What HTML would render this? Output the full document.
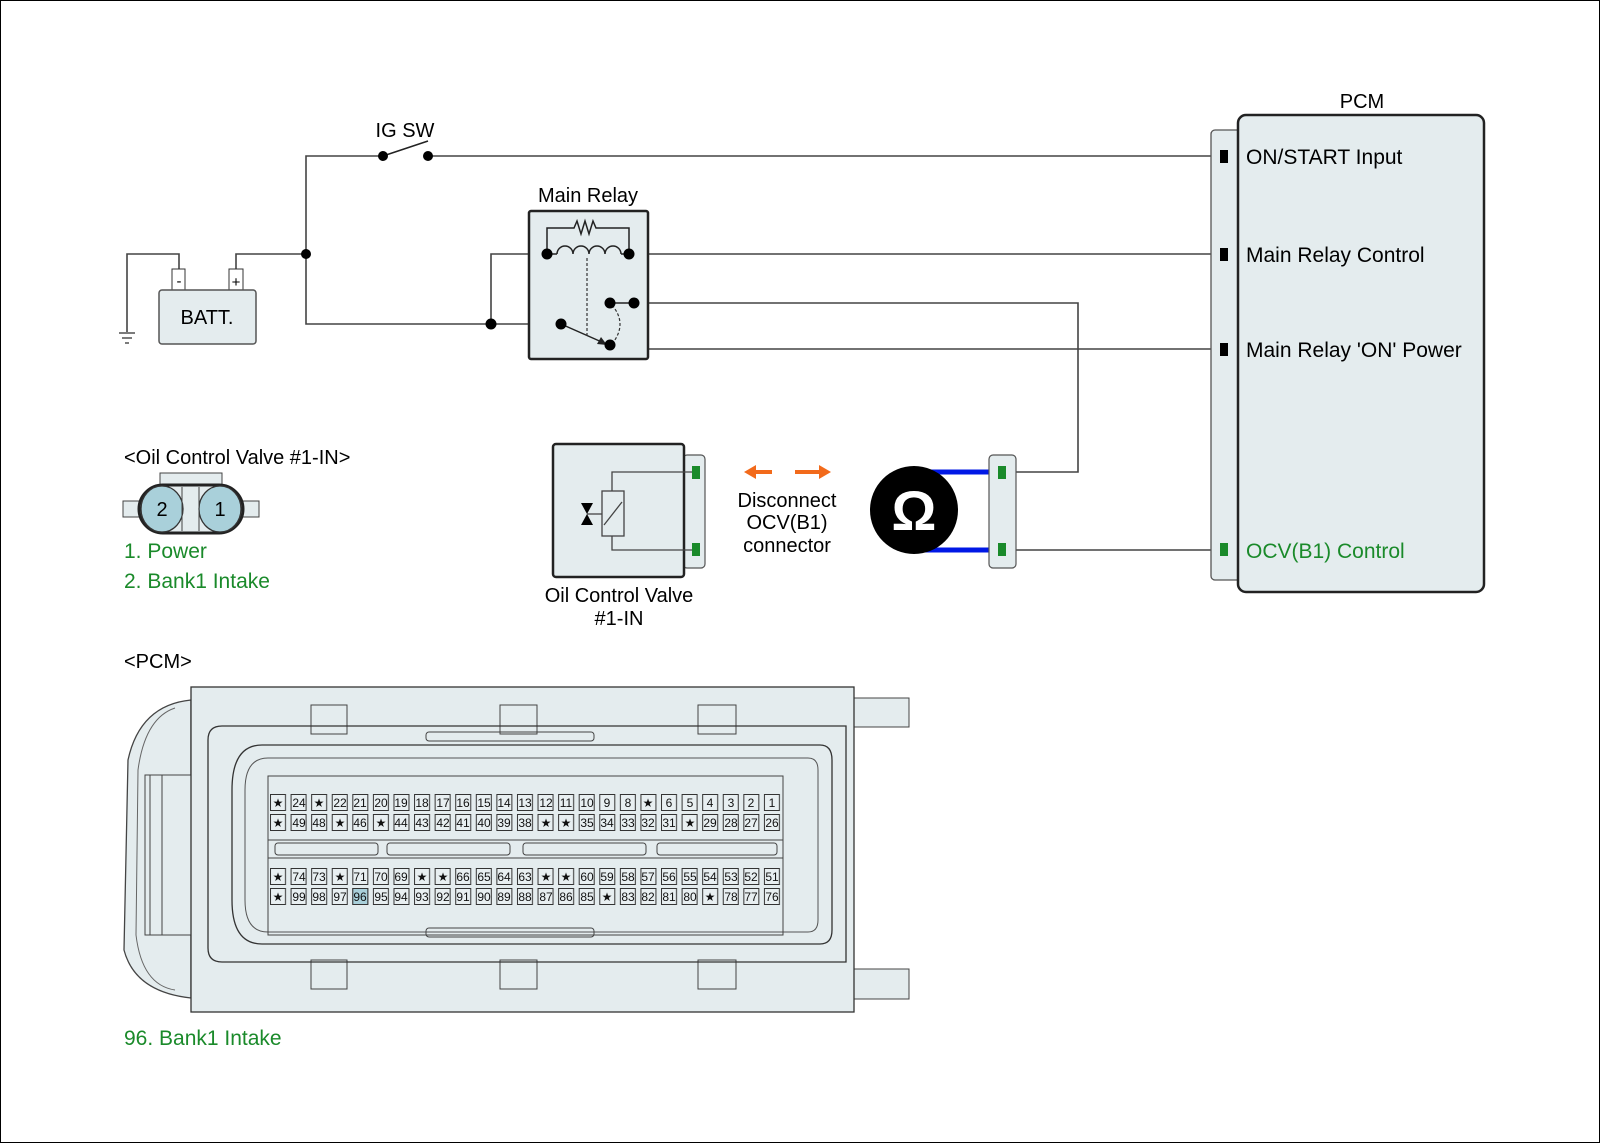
<!DOCTYPE html>
<html><head><meta charset="utf-8"><style>
html,body{margin:0;padding:0;background:#fff}
svg{display:block}
text{font-family:"Liberation Sans",Arial,sans-serif}
</style></head><body>
<svg width="1600" height="1143" viewBox="0 0 1600 1143" xmlns="http://www.w3.org/2000/svg">
<defs>
<pattern id="cellsA" x="270" y="794" width="20.58" height="20" patternUnits="userSpaceOnUse">
<rect x="0.5" y="0.5" width="15" height="16" fill="#e8eff1" stroke="#333" stroke-width="1"/>
</pattern>
<pattern id="cellsB" x="270" y="868" width="20.58" height="20" patternUnits="userSpaceOnUse">
<rect x="0.5" y="0.5" width="15" height="16" fill="#e8eff1" stroke="#333" stroke-width="1"/>
</pattern>
</defs>
<rect x="0.5" y="0.5" width="1599" height="1142" fill="#fff" stroke="#000" stroke-width="1"/>

<g fill="none" stroke="#444" stroke-width="1.6">
<polyline points="383,156 306,156 306,324 491,324"/>
<line x1="428" y1="156" x2="1222" y2="156"/>
<polyline points="236,276 236,254 306,254"/>
<polyline points="179,276 179,254 127,254 127,332"/>
<polyline points="491,324 491,254 547,254"/>
<line x1="629" y1="254" x2="1222" y2="254"/>
<polyline points="634,303 1078,303 1078,472 1002,472"/>
<polyline points="634,303 634,349 1222,349"/>
<line x1="1002" y1="550" x2="1222" y2="550"/>
<line x1="491" y1="324" x2="561" y2="324"/>
</g>
<g stroke="#444" stroke-width="1.4">
<line x1="119" y1="333" x2="135" y2="333"/><line x1="122" y1="338" x2="132" y2="338"/><line x1="125" y1="343" x2="129" y2="343"/>
</g>

<line x1="383" y1="156" x2="428" y2="141" stroke="#222" stroke-width="1.6"/>
<circle cx="383" cy="156" r="5" fill="#000"/><circle cx="428" cy="156" r="5" fill="#000"/>
<text x="405" y="137" font-size="20" text-anchor="middle">IG SW</text>
<circle cx="306" cy="254" r="5" fill="#000"/>

<rect x="172" y="269" width="13" height="21" fill="#fff" stroke="#333"/>
<rect x="229" y="269" width="14" height="21" fill="#fff" stroke="#333"/>
<text x="179" y="286" font-size="15" text-anchor="middle">-</text>
<text x="236" y="287" font-size="15" text-anchor="middle">+</text>
<rect x="159" y="290" width="97" height="54" rx="3" fill="#e4ecee" stroke="#555" stroke-width="1.5"/>
<text x="207" y="324" font-size="20" text-anchor="middle">BATT.</text>

<text x="588" y="202" font-size="20" text-anchor="middle">Main Relay</text>
<rect x="529" y="211" width="119" height="148" rx="2" fill="#e4ecee" stroke="#222" stroke-width="2.5"/>
<g fill="none" stroke="#222" stroke-width="1.5">
<polyline points="547,254 547,228 574,228 577,221 581,234 585,221 589,234 593,221 596,228 629,228 629,254"/>
<path d="M557,254 a8,8 0 0 1 16,0 a8,8 0 0 1 16,0 a8,8 0 0 1 16,0 a8,8 0 0 1 16,0"/>
<line x1="547" y1="254" x2="557" y2="254"/><line x1="621" y1="254" x2="629" y2="254"/>
<line x1="610" y1="303" x2="634" y2="303"/>
<line x1="561" y1="324" x2="604" y2="343"/>
</g>
<polygon points="607,345 597,344 601,337" fill="#222"/>
<line x1="587" y1="258" x2="587" y2="338" stroke="#333" stroke-width="1.2" stroke-dasharray="3,2"/>
<path d="M612,305 Q628,324 612,344" fill="none" stroke="#333" stroke-width="1.2" stroke-dasharray="3,2"/>
<circle cx="547" cy="254" r="5.5" fill="#000"/><circle cx="629" cy="254" r="5.5" fill="#000"/>
<circle cx="491" cy="324" r="5.5" fill="#000"/><circle cx="561" cy="324" r="5.5" fill="#000"/>
<circle cx="610" cy="345" r="5.5" fill="#000"/>
<circle cx="610" cy="303" r="5.5" fill="#000"/><circle cx="634" cy="303" r="5.5" fill="#000"/>

<text x="1362" y="108" font-size="20" text-anchor="middle">PCM</text>
<rect x="1211" y="130" width="40" height="450" rx="4" fill="#e4ecee" stroke="#555" stroke-width="1.3"/>
<rect x="1238" y="115" width="246" height="477" rx="8" fill="#e4ecee" stroke="#222" stroke-width="2.5"/>
<rect x="1220" y="150" width="8" height="13" fill="#000"/>
<rect x="1220" y="248" width="8" height="13" fill="#000"/>
<rect x="1220" y="343" width="8" height="13" fill="#000"/>
<rect x="1220" y="543" width="8" height="13" fill="#1a8a2a"/>
<g font-size="21">
<text x="1246" y="164">ON/START Input</text>
<text x="1246" y="262">Main Relay Control</text>
<text x="1246" y="357">Main Relay 'ON' Power</text>
<text x="1246" y="558" fill="#1a8a2a">OCV(B1) Control</text>
</g>

<rect x="683" y="455" width="22" height="113" rx="4" fill="#e4ecee" stroke="#555" stroke-width="1.2"/>
<rect x="553" y="444" width="131" height="133" rx="3" fill="#e4ecee" stroke="#222" stroke-width="2.5"/>
<g fill="none" stroke="#444" stroke-width="1.3">
<polyline points="693,472 612,472 612,491"/>
<polyline points="612,536 612,550 693,550"/>
<rect x="602" y="491" width="22" height="45"/>
<line x1="604" y1="525" x2="622" y2="502"/>
<line x1="587" y1="514" x2="602" y2="514"/>
</g>
<polygon points="581,503 593,503 587,514" fill="#000"/>
<polygon points="581,525 593,525 587,514" fill="#000"/>
<rect x="692" y="466" width="8" height="13" fill="#1a8a2a"/>
<rect x="692" y="543" width="8" height="13" fill="#1a8a2a"/>
<text x="619" y="602" font-size="20" text-anchor="middle">Oil Control Valve</text>
<text x="619" y="625" font-size="20" text-anchor="middle">#1-IN</text>

<g fill="#f26a1b" stroke="#f26a1b">
<line x1="752" y1="472" x2="772" y2="472" stroke-width="4"/>
<polygon points="744,472 756,465 756,479" stroke="none"/>
<line x1="795" y1="472" x2="822" y2="472" stroke-width="4"/>
<polygon points="831,472 819,465 819,479" stroke="none"/>
</g>
<g font-size="20" text-anchor="middle">
<text x="787" y="507">Disconnect</text>
<text x="787" y="529">OCV(B1)</text>
<text x="787" y="552">connector</text>
</g>

<line x1="915" y1="472" x2="1000" y2="472" stroke="#0018e6" stroke-width="5"/>
<line x1="915" y1="550" x2="1000" y2="550" stroke="#0018e6" stroke-width="5"/>
<circle cx="914" cy="510" r="44" fill="#000"/>
<text x="914" y="530" font-size="56" font-weight="bold" fill="#fff" text-anchor="middle" font-family="DejaVu Sans, sans-serif">Ω</text>
<rect x="989" y="455" width="27" height="113" rx="4" fill="#e4ecee" stroke="#555" stroke-width="1.2"/>
<rect x="998" y="466" width="8" height="13" fill="#1a8a2a"/>
<rect x="998" y="543" width="8" height="13" fill="#1a8a2a"/>

<text x="124" y="464" font-size="20">&lt;Oil Control Valve #1-IN&gt;</text>
<rect x="160" y="473" width="62" height="14" fill="#e4ecee" stroke="#444"/>
<rect x="123" y="501" width="18" height="16" fill="#e4ecee" stroke="#444"/>
<rect x="241" y="501" width="18" height="16" fill="#e4ecee" stroke="#444"/>
<rect x="139" y="485" width="104" height="48" rx="24" fill="#e4ecee" stroke="#222" stroke-width="3"/>
<ellipse cx="162" cy="509" rx="21" ry="23" fill="#a9d0da" stroke="#333" stroke-width="1.3"/>
<ellipse cx="220" cy="509" rx="21" ry="23" fill="#a9d0da" stroke="#333" stroke-width="1.3"/>
<line x1="182" y1="487" x2="182" y2="531" stroke="#444"/><line x1="199" y1="487" x2="199" y2="531" stroke="#444"/>
<text x="162" y="516" font-size="20" text-anchor="middle">2</text>
<text x="220" y="516" font-size="20" text-anchor="middle">1</text>
<text x="124" y="558" font-size="21" fill="#1a8a2a">1. Power</text>
<text x="124" y="588" font-size="21" fill="#1a8a2a">2. Bank1 Intake</text>
<text x="124" y="668" font-size="20">&lt;PCM&gt;</text>

<path d="M191,700 Q140,705 128,760 L124,950 Q135,992 191,998 Z" fill="#e4ecee" stroke="#444" stroke-width="1.3"/>
<path d="M175,708 Q145,718 138,770 L136,935 Q142,985 175,990" fill="none" stroke="#666"/>
<rect x="145" y="775" width="46" height="160" fill="#e4ecee" stroke="#444"/>
<rect x="150" y="775" width="12" height="160" fill="none" stroke="#444"/>
<rect x="854" y="698" width="55" height="29" fill="#e4ecee" stroke="#444"/>
<rect x="854" y="969" width="55" height="30" fill="#e4ecee" stroke="#444"/>
<rect x="191" y="687" width="663" height="325" fill="#e4ecee" stroke="#333" stroke-width="1.3"/>
<g fill="#e4ecee" stroke="#444">
<rect x="311" y="705" width="36" height="29"/><rect x="500" y="705" width="37" height="29"/><rect x="698" y="705" width="38" height="29"/>
<rect x="311" y="960" width="36" height="29"/><rect x="500" y="960" width="37" height="29"/><rect x="698" y="960" width="38" height="29"/>
</g>
<path d="M222,726 L846,726 L846,962 L222,962 Q208,962 208,948 L208,740 Q208,726 222,726 Z" fill="none" stroke="#333" stroke-width="1.3"/>
<path d="M262,745 L820,745 Q832,745 832,760 L832,930 Q832,944 820,944 L262,944 Q232,944 232,900 L232,790 Q232,745 262,745 Z" fill="none" stroke="#333" stroke-width="1.3"/>
<path d="M268,758 L808,758 Q818,758 818,770 L818,920 Q818,932 808,932 L268,932 Q245,932 245,900 L245,790 Q245,758 268,758 Z" fill="none" stroke="#555"/>
<rect x="426" y="732" width="168" height="9" rx="3" fill="none" stroke="#444"/>
<rect x="426" y="928" width="168" height="9" rx="3" fill="none" stroke="#444"/>
<rect x="268" y="776" width="515" height="159" fill="none" stroke="#444"/>
<rect x="268" y="840" width="515" height="18" fill="#e4ecee" stroke="#444"/>
<g fill="none" stroke="#444">
<rect x="275" y="843" width="103" height="12" rx="3"/><rect x="387" y="843" width="123" height="12" rx="3"/>
<rect x="523" y="843" width="123" height="12" rx="3"/><rect x="657" y="843" width="120" height="12" rx="3"/>
</g>
<rect x="270" y="794" width="514" height="38" fill="url(#cellsA)"/>
<rect x="270" y="868" width="514" height="38" fill="url(#cellsB)"/>
<rect x="352.8" y="888.5" width="15" height="16" fill="#a9d0da" stroke="#333"/>
<g font-size="12" text-anchor="middle" fill="#111">
<text y="807"><tspan x="278">★</tspan><tspan x="299">24</tspan><tspan x="319">★</tspan><tspan x="340">22</tspan><tspan x="360">21</tspan><tspan x="381">20</tspan><tspan x="401">19</tspan><tspan x="422">18</tspan><tspan x="443">17</tspan><tspan x="463">16</tspan><tspan x="484">15</tspan><tspan x="504">14</tspan><tspan x="525">13</tspan><tspan x="546">12</tspan><tspan x="566">11</tspan><tspan x="587">10</tspan><tspan x="607">9</tspan><tspan x="628">8</tspan><tspan x="648">★</tspan><tspan x="669">6</tspan><tspan x="690">5</tspan><tspan x="710">4</tspan><tspan x="731">3</tspan><tspan x="751">2</tspan><tspan x="772">1</tspan></text>
<text y="827"><tspan x="278">★</tspan><tspan x="299">49</tspan><tspan x="319">48</tspan><tspan x="340">★</tspan><tspan x="360">46</tspan><tspan x="381">★</tspan><tspan x="401">44</tspan><tspan x="422">43</tspan><tspan x="443">42</tspan><tspan x="463">41</tspan><tspan x="484">40</tspan><tspan x="504">39</tspan><tspan x="525">38</tspan><tspan x="546">★</tspan><tspan x="566">★</tspan><tspan x="587">35</tspan><tspan x="607">34</tspan><tspan x="628">33</tspan><tspan x="648">32</tspan><tspan x="669">31</tspan><tspan x="690">★</tspan><tspan x="710">29</tspan><tspan x="731">28</tspan><tspan x="751">27</tspan><tspan x="772">26</tspan></text>
<text y="881"><tspan x="278">★</tspan><tspan x="299">74</tspan><tspan x="319">73</tspan><tspan x="340">★</tspan><tspan x="360">71</tspan><tspan x="381">70</tspan><tspan x="401">69</tspan><tspan x="422">★</tspan><tspan x="443">★</tspan><tspan x="463">66</tspan><tspan x="484">65</tspan><tspan x="504">64</tspan><tspan x="525">63</tspan><tspan x="546">★</tspan><tspan x="566">★</tspan><tspan x="587">60</tspan><tspan x="607">59</tspan><tspan x="628">58</tspan><tspan x="648">57</tspan><tspan x="669">56</tspan><tspan x="690">55</tspan><tspan x="710">54</tspan><tspan x="731">53</tspan><tspan x="751">52</tspan><tspan x="772">51</tspan></text>
<text y="901"><tspan x="278">★</tspan><tspan x="299">99</tspan><tspan x="319">98</tspan><tspan x="340">97</tspan><tspan x="360">96</tspan><tspan x="381">95</tspan><tspan x="401">94</tspan><tspan x="422">93</tspan><tspan x="443">92</tspan><tspan x="463">91</tspan><tspan x="484">90</tspan><tspan x="504">89</tspan><tspan x="525">88</tspan><tspan x="546">87</tspan><tspan x="566">86</tspan><tspan x="587">85</tspan><tspan x="607">★</tspan><tspan x="628">83</tspan><tspan x="648">82</tspan><tspan x="669">81</tspan><tspan x="690">80</tspan><tspan x="710">★</tspan><tspan x="731">78</tspan><tspan x="751">77</tspan><tspan x="772">76</tspan></text>
</g>
<text x="124" y="1045" font-size="21" fill="#1a8a2a">96. Bank1 Intake</text>
</svg>
</body></html>
